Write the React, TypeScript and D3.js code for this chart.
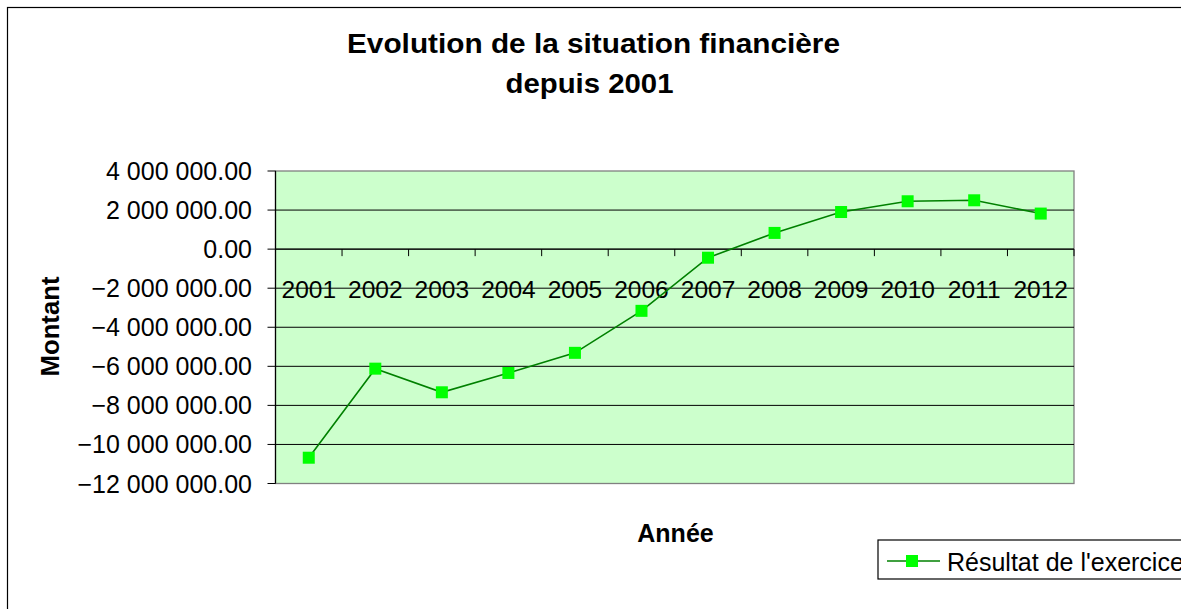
import * as d3 from "d3";
import React from "react";

const years = ["2001", "2002", "2003", "2004", "2005", "2006", "2007", "2008", "2009", "2010", "2011", "2012"];
const resultat = [-10680000, -6120000, -7330000, -6340000, -5310000, -3160000, -440000, 830000, 1900000, 2450000, 2500000, 1820000];
const yTicks = [4000000, 2000000, 0, -2000000, -4000000, -6000000, -8000000, -10000000, -12000000];

const titleLines = ["Evolution de la situation financière", "depuis 2001"];
const seriesName = "Résultat de l'exercice";

const W = 1181;
const H = 609;
const plot = { left: 275.5, right: 1074, top: 171, bottom: 483.5 };
const font = "'Liberation Sans', Arial, sans-serif";

const fmt = d3
  .formatLocale({ decimal: ".", thousands: " ", grouping: [3], currency: ["", ""] })
  .format(",.2f");

const App = () => {
  const x = d3.scaleBand<string>().domain(years).range([plot.left, plot.right]);
  const y = d3.scaleLinear().domain([-12000000, 4000000]).range([plot.bottom, plot.top]);

  const line = d3
    .line<number>()
    .x((d, i) => x(years[i])! + x.bandwidth() / 2)
    .y((d) => y(d));

  const y0 = y(0);
  const boundaries = d3.range(years.length + 1).map((i) => plot.left + i * x.step());

  return (
    <svg width={W} height={H} style={{ position: "absolute", left: 0, top: 0 }} fontFamily={font}>
      <rect x={0} y={0} width={W} height={H} fill="#fff" />
      {/* chart frame */}
      <rect x={7.5} y={7.5} width={1180} height={640} fill="none" stroke="#000" strokeWidth={1.2} />

      {/* the title renders wider in the original, so stretch it to fit */}
      <text x={593.5} y={53} textAnchor="middle" fontSize={27} fontWeight="bold" textLength={493} lengthAdjust="spacingAndGlyphs">
        {titleLines[0]}
      </text>
      <text x={589.5} y={92.5} textAnchor="middle" fontSize={27} fontWeight="bold" textLength={168} lengthAdjust="spacingAndGlyphs">
        {titleLines[1]}
      </text>

      {/* plot area */}
      <rect
        x={plot.left}
        y={plot.top}
        width={plot.right - plot.left}
        height={plot.bottom - plot.top}
        fill="#CCFFCC"
        stroke="#808080"
        strokeWidth={1.3}
      />

      {yTicks.map((v) => (
        <g key={v}>
          {v !== 4000000 && v !== -12000000 && (
            <line x1={plot.left} x2={plot.right} y1={y(v)} y2={y(v)} stroke="#000" strokeWidth={1} />
          )}
          <line x1={plot.left - 8} x2={plot.left} y1={y(v)} y2={y(v)} stroke="#000" strokeWidth={1} />
          <text x={252} y={y(v)} dy="0.36em" textAnchor="end" fontSize={25}>
            {fmt(v)}
          </text>
        </g>
      ))}
      <line x1={plot.left} x2={plot.left} y1={plot.top} y2={plot.bottom} stroke="#000" strokeWidth={1.2} />

      {/* category axis at zero */}
      <line x1={plot.left} x2={plot.right} y1={y0} y2={y0} stroke="#000" strokeWidth={1} />
      {boundaries.map((bx, i) => (
        <line key={i} x1={bx} x2={bx} y1={y0} y2={y0 + 7} stroke="#000" strokeWidth={1} />
      ))}
      {years.map((yr) => (
        <text key={yr} x={x(yr)! + x.bandwidth() / 2} y={297.5} textAnchor="middle" fontSize={24.5}>
          {yr}
        </text>
      ))}

      <path d={line(resultat)!} fill="none" stroke="#008000" strokeWidth={1.6} />
      {resultat.map((v, i) => (
        <rect
          key={years[i]}
          x={x(years[i])! + x.bandwidth() / 2 - 6}
          y={y(v) - 6}
          width={12}
          height={12}
          fill="#00FF00"
        />
      ))}

      <text
        transform={`translate(59,326.5) rotate(-90)`}
        textAnchor="middle"
        fontSize={25}
        fontWeight="bold"
        textLength={100}
        lengthAdjust="spacingAndGlyphs"
      >
        Montant
      </text>
      <text x={675.5} y={541.5} textAnchor="middle" fontSize={25} fontWeight="bold">
        Année
      </text>

      {/* legend */}
      <rect x={878} y={540} width={340} height={39} fill="#fff" stroke="#000" strokeWidth={1.2} />
      <line x1={887} x2={940} y1={561} y2={561} stroke="#008000" strokeWidth={1.6} />
      <rect x={906} y={555} width={12} height={12} fill="#00FF00" />
      <text x={947} y={571} fontSize={25}>
        {seriesName}
      </text>
    </svg>
  );
};

export default App;
